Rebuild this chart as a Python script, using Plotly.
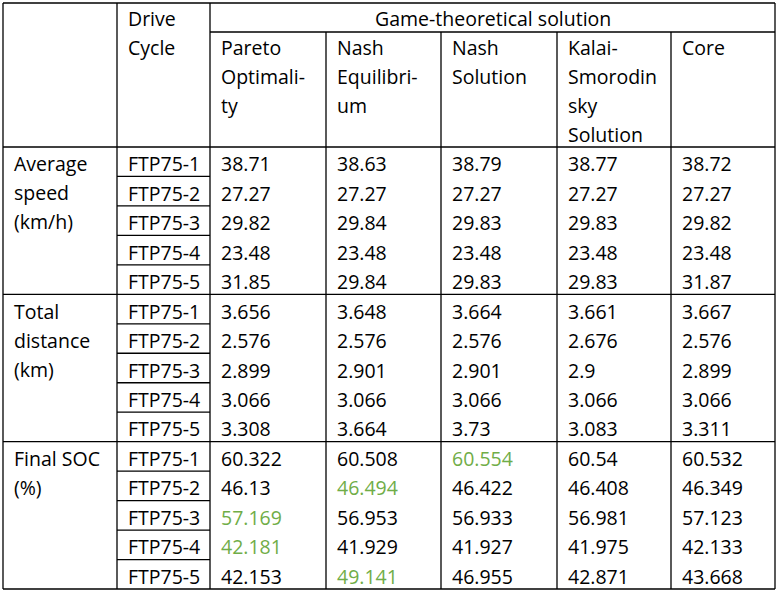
import plotly.graph_objects as go

# table content
groups = ["Average<br>speed<br>(km/h)", "Total<br>distance<br>(km)", "Final SOC<br>(%)"]
cycles = ["FTP75-1", "FTP75-2", "FTP75-3", "FTP75-4", "FTP75-5"]
methods = ["Pareto<br>Optimali-<br>ty", "Nash<br>Equilibri-<br>um", "Nash<br>Solution",
           "Kalai-<br>Smorodin<br>sky<br>Solution", "Core"]

avg_speed = [
    [38.71, 27.27, 29.82, 23.48, 31.85],
    [38.63, 27.27, 29.84, 23.48, 29.84],
    [38.79, 27.27, 29.83, 23.48, 29.83],
    [38.77, 27.27, 29.83, 23.48, 29.83],
    [38.72, 27.27, 29.82, 23.48, 31.87],
]
total_dist = [
    [3.656, 2.576, 2.899, 3.066, 3.308],
    [3.648, 2.576, 2.901, 3.066, 3.664],
    [3.664, 2.576, 2.901, 3.066, 3.73],
    [3.661, 2.676, 2.9, 3.066, 3.083],
    [3.667, 2.576, 2.899, 3.066, 3.311],
]
final_soc = [
    [60.322, 46.13, 57.169, 42.181, 42.153],
    [60.508, 46.494, 56.953, 41.929, 49.141],
    [60.554, 46.422, 56.933, 41.927, 46.955],
    [60.54, 46.408, 56.981, 41.975, 42.871],
    [60.532, 46.349, 57.123, 42.133, 43.668],
]
# (method index, cycle index) of the best SOC values, shown in green
best_soc = [(2, 0), (1, 1), (0, 2), (0, 3), (1, 4)]

# layout (pixels)
W, H = 778, 594
col_x = [3, 117, 210, 326, 441, 557, 671, 775]
top, sub_top, head_bot, bottom = 3, 32, 147, 589
line_h = 29
row_h = (bottom - head_bot) / 15
pad = 9
FONT = dict(family="Open Sans, Calibri, sans-serif", size=19.5, color="black")
GREEN = "#70AD47"

fig = go.Figure()
shapes = []
annots = []

def hline(x0, x1, y):
    shapes.append(dict(type="line", x0=x0, x1=x1, y0=y, y1=y,
                       line=dict(color="black", width=1.3)))

def vline(x, y0, y1):
    shapes.append(dict(type="line", x0=x, x1=x, y0=y0, y1=y1,
                       line=dict(color="black", width=1.3)))

def text(x, y, s, color="black", anchor="left"):
    for i, part in enumerate(s.split("<br>")):
        annots.append(dict(x=x, y=y + i * line_h, text=part, showarrow=False,
                           xanchor=anchor, yanchor="middle",
                           font=dict(FONT, color=color)))

# borders
hline(col_x[0], col_x[-1], top)
hline(col_x[2], col_x[-1], sub_top)
hline(col_x[0], col_x[-1], head_bot)
hline(col_x[0], col_x[-1], bottom)
for g in (1, 2):
    hline(col_x[0], col_x[-1], head_bot + g * 5 * row_h)
for r in range(15):
    if r % 5:
        hline(col_x[1], col_x[2], head_bot + r * row_h)
for i, x in enumerate(col_x):
    vline(x, sub_top if 2 < i < len(col_x) - 1 else top, bottom)

# header text
first = top + line_h / 2 + 1
text(col_x[1] + pad, first, "Drive<br>Cycle")
text((col_x[2] + col_x[-1]) / 2, first, "Game-theoretical solution", anchor="center")
for m, name in enumerate(methods):
    text(col_x[m + 2] + pad, first + line_h, name)

# body
blocks = [avg_speed, total_dist, final_soc]
for g, block in enumerate(blocks):
    y0 = head_bot + g * 5 * row_h + row_h / 2 + 2
    text(col_x[0] + pad, y0, groups[g])
    for c, cyc in enumerate(cycles):
        y = y0 + c * row_h
        text(col_x[1] + pad, y, cyc)
        for m, vals in enumerate(block):
            col = GREEN if g == 2 and (m, c) in best_soc else "black"
            text(col_x[m + 2] + pad, y, str(vals[c]), color=col)

fig.update_layout(
    width=W, height=H, margin=dict(l=0, r=0, t=0, b=0),
    paper_bgcolor="white", plot_bgcolor="white",
    xaxis=dict(range=[0, W], visible=False, fixedrange=True),
    yaxis=dict(range=[H, 0], visible=False, fixedrange=True),
    shapes=shapes, annotations=annots, showlegend=False,
)
fig.write_html("out.html", config={"displayModeBar": False},
               post_script="document.body.style.margin='0';document.body.style.overflow='hidden';")
